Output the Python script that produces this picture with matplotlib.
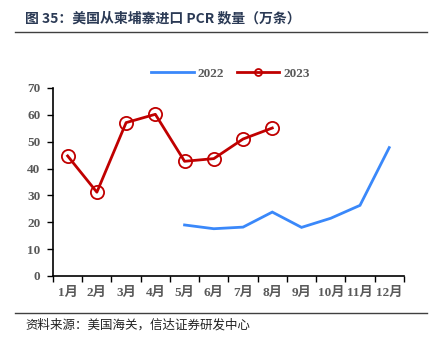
import matplotlib
matplotlib.use("Agg")
import matplotlib.pyplot as plt
from matplotlib.lines import Line2D

months = ["1月", "2月", "3月", "4月", "5月", "6月", "7月", "8月", "9月", "10月", "11月", "12月"]
series_2022_months = ["5月", "6月", "7月", "8月", "9月", "10月", "11月", "12月"]
values_2022 = [19.0, 17.6, 18.2, 23.8, 18.1, 21.5, 26.3, 47.8]
series_2023_months = ["1月", "2月", "3月", "4月", "5月", "6月", "7月", "8月"]
values_2023 = [44.7, 31.2, 57.1, 60.2, 42.7, 43.7, 51.0, 55.1]
yticks = [0, 10, 20, 30, 40, 50, 60, 70]

serif_cjk = ["Liberation Serif", "Noto Sans CJK SC"]
sans_cjk = ["Noto Sans CJK SC", "DejaVu Sans"]

fig = plt.figure(figsize=(4.31, 3.45), dpi=100)
ax = fig.add_axes([0.123, 0.2, 0.814, 0.545])

x22 = [months.index(m) for m in series_2022_months]
x23 = [months.index(m) for m in series_2023_months]
blue = "#3A88FA"
red = "#C00000"
ax.plot(x22, values_2022, color=blue, lw=2.0, solid_joinstyle="miter")
ax.plot(x23, values_2023, color=red, lw=2.0, marker="o", markersize=9.5,
        markerfacecolor="none", markeredgecolor=red, markeredgewidth=1.3)

ax.set_xlim(-0.5, len(months) - 0.5)
ax.set_ylim(0, 70)
ax.set_yticks(yticks)
ax.set_yticklabels([str(v) for v in yticks], family=serif_cjk, fontweight="bold",
                   fontsize=9.5, color="#595959")
ax.set_xticks([i - 0.5 for i in range(len(months) + 1)])
ax.set_xticklabels([])
ax.set_xticks(range(len(months)), minor=True)
ax.set_xticklabels(months, minor=True, family=serif_cjk, fontweight="bold",
                   fontsize=9.5, color="#595959")
ax.tick_params(axis="x", which="major", direction="out", length=4, width=1, color="black")
ax.tick_params(axis="x", which="minor", length=0, pad=8)
ax.tick_params(axis="y", direction="out", length=4, width=1, color="black", pad=5)
for s in ["top", "right"]:
    ax.spines[s].set_visible(False)
for s in ["left", "bottom"]:
    ax.spines[s].set_linewidth(1.2)
    ax.spines[s].set_color("black")

handles = [Line2D([], [], color=blue, lw=2.0),
           Line2D([], [], color=red, lw=2.0, marker="o", markersize=5,
                  markerfacecolor="none", markeredgecolor=red, markeredgewidth=1.3)]
leg = fig.legend(handles, ["2022", "2023"], loc="center", bbox_to_anchor=(0.535, 0.787),
                 ncol=2, frameon=False, handlelength=3.2, columnspacing=1.0,
                 handletextpad=0.3,
                 prop={"family": serif_cjk, "weight": "bold", "size": 9.5})
for t in leg.get_texts():
    t.set_color("#595959")

fig.text(0.058, 0.948, "图 35：美国从柬埔寨进口 PCR 数量（万条）", family=sans_cjk,
         fontweight="bold", fontsize=10, color="#2B3A55", va="center", ha="left")
fig.add_artist(Line2D([0.035, 0.99], [0.907, 0.907], color="#404040", lw=1.0,
                      transform=fig.transFigure))
fig.add_artist(Line2D([0.035, 0.99], [0.093, 0.093], color="#404040", lw=1.0,
                      transform=fig.transFigure))
fig.text(0.058, 0.058, "资料来源：美国海关，信达证券研发中心", family=sans_cjk,
         fontstyle="italic", fontsize=9, color="#222222", va="center", ha="left")

fig.savefig("out.png", dpi=100)
